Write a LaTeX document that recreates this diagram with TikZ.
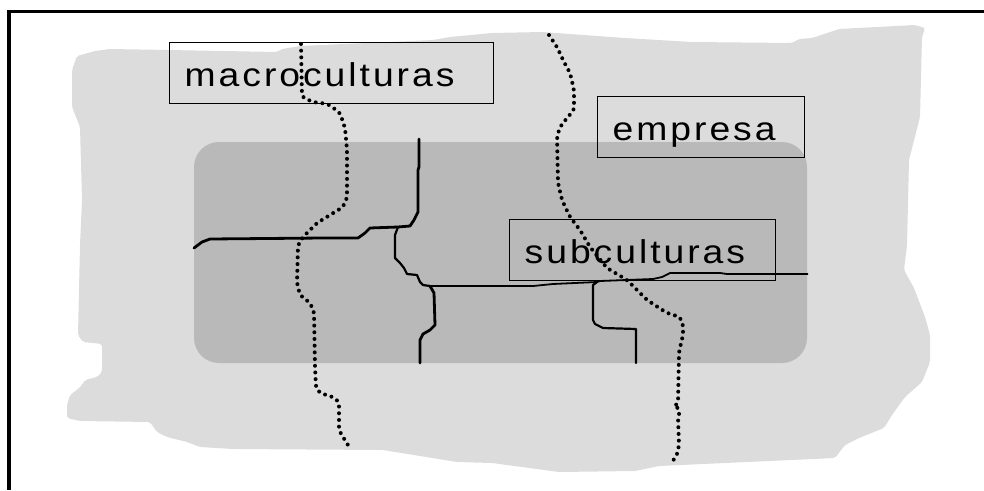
\documentclass[tikz,border=0pt]{standalone}
\usepackage{fontspec}
\setmainfont{Liberation Sans}
\newfontfamily\labelfont[FakeStretch=1.13, LetterSpace=9]{Liberation Sans}
\definecolor{outerzone}{RGB}{220,220,220}
\definecolor{innerzone}{RGB}{185,185,185}
\begin{document}
\begin{tikzpicture}[x=1pt,y=-1pt,
  frameline/.style={line width=3.8pt},
  borderline/.style={line width=2.8pt, line join=round, line cap=round},
  branchline/.style={line width=2.2pt, line join=round, line cap=round},
  fineline/.style={line width=1.8pt, line join=round},
  dotline/.style={line width=4pt, line cap=round, dash pattern=on 0pt off 6.7pt, rounded corners=3pt},
  labelbox/.style={draw, line width=1.4pt, inner xsep=15pt, inner ysep=0pt,
    text height=44pt, text depth=17pt, align=left, anchor=north west,
    font={\labelfont\fontsize{33}{36}\selectfont}}]
\useasboundingbox (0,0) rectangle (984,490);

% outer irregular zone
\fill[outerzone, rounded corners=2pt]
  (77,56) -- (95,51) -- (110,49) -- (169,50) -- (277,52) -- (282,49) -- (300,46)
  -- (433,40) -- (450,37) -- (492,33) -- (542,32) -- (625,38) -- (692,42)
  -- (792,43) -- (799,39) -- (812,38) -- (839,29) -- (915,25) -- (925,28)
  -- (922,37) -- (920,117) -- (909,160) -- (907,245) -- (904,270) -- (914,288)
  -- (925,317) -- (930,335) -- (930,362) -- (922,382) -- (905,397) -- (892,415)
  -- (884,428) -- (859,438) -- (845,445) -- (835,458) -- (659,466) -- (635,471)
  -- (559,472) -- (492,463) -- (457,462) -- (383,450) -- (233,449) -- (200,447)
  -- (187,442) -- (167,437) -- (157,432) -- (150,422) -- (80,421) -- (67,418)
  -- (67,405) -- (70,395) -- (78,389) -- (82,385) -- (85,380) -- (97,377)
  -- (102,372) -- (102,344) -- (93,343) -- (83,342) -- (78,335) -- (80,245)
  -- (82,200) -- (80,127) -- (72,107) -- (72,70) -- cycle;

% inner rounded zone
\fill[innerzone, rounded corners=25pt] (194,142) rectangle (807,363);

% junctions of the solid boundaries
\coordinate (j1) at (398,227);
\coordinate (j2) at (430,286);
\coordinate (j3) at (597,282);

% solid boundaries
\draw[borderline] (419,139) -- (419,167) -- (418,170) -- (418,212) -- (414,220)
  -- (410,226) -- (j1) -- (370,228) -- (365,233) -- (358,238) -- (323,238)
  -- (210,239) -- (202,242) -- (194,248);
\draw[branchline] (j1) -- (395,235) -- (395,258) -- (400,263) -- (404,268)
  -- (407,274) -- (417,275) -- (420,282) -- (423,285) -- (j2);
\draw[borderline] (j2) -- (434,293) -- (435,325) -- (430,330) -- (423,334)
  -- (420,340) -- (420,363);
\draw[fineline] (j2) -- (533,286) -- (553,284) -- (j3) -- (600,281) -- (653,279)
  -- (662,277) -- (670,273) -- (720,273) -- (727,274) -- (808,274);
\draw[branchline] (j3) -- (593,285) -- (593,320) -- (595,324) -- (603,328)
  -- (636,329) -- (636,363);

% dotted boundaries
\draw[dotline] (301,44) -- (302,97) -- (313,102) -- (328,104) -- (340,113)
  -- (345,128) -- (347,150) -- (347,198) -- (343,207) -- (330,215) -- (317,223)
  -- (303,237) -- (298,245) -- (297,283) -- (300,295) -- (310,303) -- (314,312)
  -- (315,367) -- (316,388) -- (320,393) -- (333,397) -- (339,402) -- (339,430)
  -- (343,437) -- (348,445);
\draw[dotline] (549,35) -- (557,47) -- (564,62) -- (570,73) -- (574,90)
  -- (574,110) -- (567,118) -- (560,127) -- (557,137) -- (558,183) -- (562,200)
  -- (570,217) -- (580,230) -- (590,247) -- (607,268) -- (627,280) -- (647,300)
  -- (667,313) -- (680,317) -- (683,325) -- (683,335) -- (679,352) -- (678,403)
  -- (675,406) -- (680,410) -- (678,418) -- (679,445) -- (677,455) -- (672,462);

% labels
\node[labelbox, text width=294pt] (macro) at (169,42) {macroculturas};
\node[labelbox, text width=177pt] (empresa) at (597,96) {empresa};
\node[labelbox, text width=236pt] (sub) at (509,219) {subculturas};

% frame
\draw[frameline] (9,490) -- (9,11.5) -- (984,11.5);
\end{tikzpicture}
\end{document}
